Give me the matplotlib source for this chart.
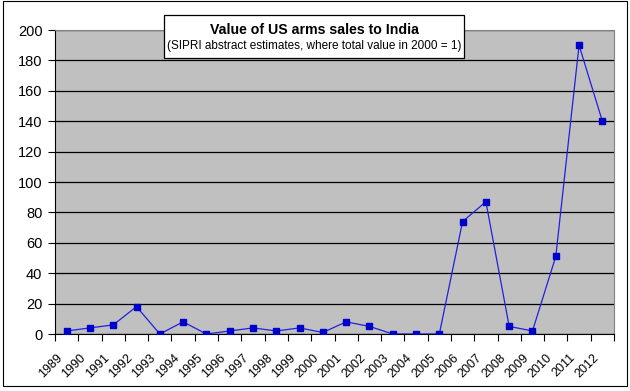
import matplotlib
matplotlib.use("Agg")
import matplotlib.pyplot as plt
from matplotlib.patches import Rectangle
from matplotlib.transforms import ScaledTranslation

years = [str(y) for y in range(1989, 2013)]
values = [2, 4, 6, 18, 0, 8, 0, 2, 4, 2, 4, 1, 8, 5, 0, 0, 0, 74, 87, 5, 2, 51, 190, 140]
yticks = list(range(0, 201, 20))

plt.rcParams['font.family'] = ['Liberation Sans', 'DejaVu Sans']

fig = plt.figure(figsize=(6.3, 3.91), dpi=100)
fig.patch.set_facecolor('white')

# outer chart frame
fig.patches.append(Rectangle((3/630, 1-386/391), 624/630, 385/391, transform=fig.transFigure,
                             fill=False, edgecolor='black', linewidth=0.8))

ax = fig.add_axes([55/630, 1-334/391, (614-55)/630, (334-30)/391])
ax.set_facecolor('#C0C0C0')

x = [i + 0.5 for i in range(len(years))]
ax.plot(x, values, color='#2020DD', linewidth=0.9, marker='s', markersize=4.5,
        markerfacecolor='#0000CC', markeredgecolor='#0000CC', zorder=3)

ax.set_xlim(0, len(years))
ax.set_ylim(0, 200)
ax.set_yticks(yticks)
ax.set_yticklabels([str(v) for v in yticks], fontsize=10.5)
ax.yaxis.grid(True, color='black', linewidth=0.9)
ax.set_axisbelow(True)

ax.set_xticks(range(0, len(years) + 1))
ax.set_xticklabels([])
ax.set_xticks(x, minor=True)
ax.set_xticklabels(years, minor=True, rotation=45, ha='right', va='top',
                   fontsize=9, rotation_mode='anchor')
ax.tick_params(axis='x', which='minor', length=0, pad=9)
ax.tick_params(axis='x', which='major', length=5, direction='out', width=0.8)
ax.tick_params(axis='y', length=5, direction='out', width=0.8, pad=4)

offset = ScaledTranslation(-10/100, -5/100, fig.dpi_scale_trans)
for lbl in ax.get_xticklabels(minor=True):
    lbl.set_transform(lbl.get_transform() + offset)

for s in ['top', 'right']:
    ax.spines[s].set_color('#808080')
    ax.spines[s].set_linewidth(0.8)
for s in ['left', 'bottom']:
    ax.spines[s].set_color('black')
    ax.spines[s].set_linewidth(0.8)

# title box
fig.patches.append(Rectangle((164/630, 1-58/391), 300/630, 43/391, transform=fig.transFigure,
                             facecolor='white', edgecolor='black', linewidth=0.9, zorder=5))
fig.text(314/630, 1-30/391, 'Value of US arms sales to India', ha='center', va='center',
         fontsize=10.2, fontweight='bold', zorder=6)
fig.text(314/630, 1-46/391, '(SIPRI abstract estimates, where total value in 2000 = 1)',
         ha='center', va='center', fontsize=8.5, zorder=6)

fig.savefig('out.png', dpi=100)
